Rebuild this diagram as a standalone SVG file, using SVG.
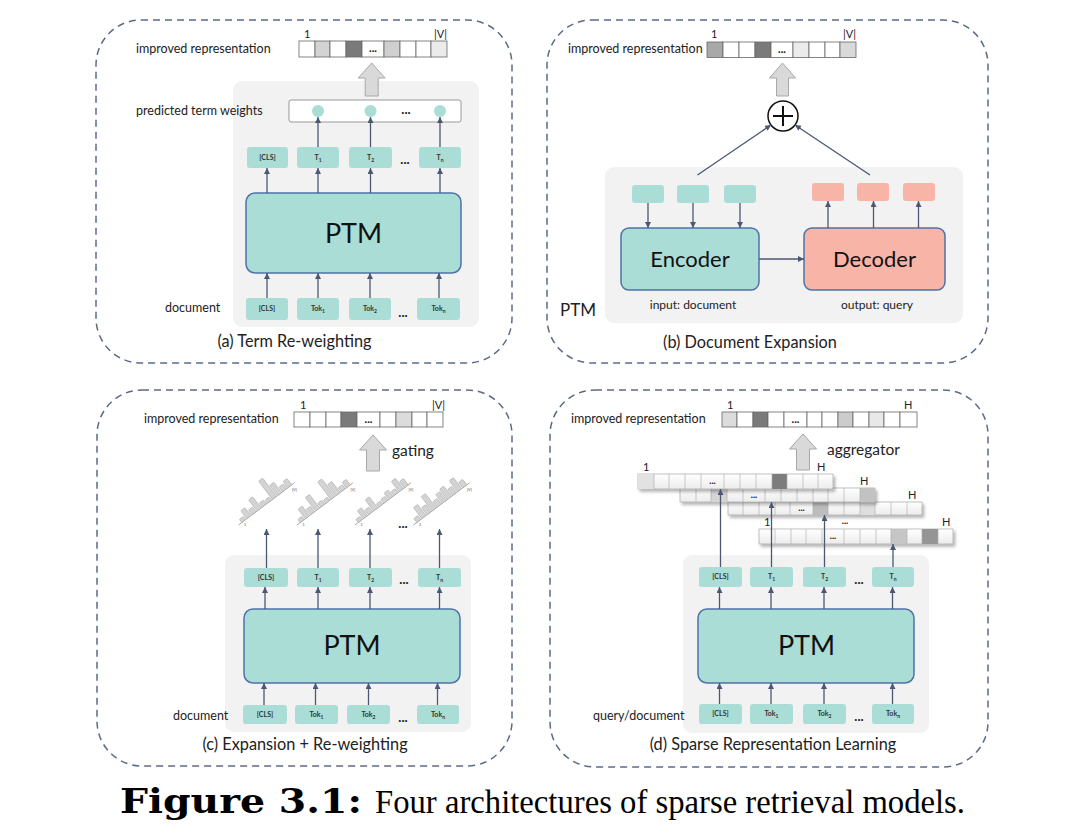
<svg xmlns="http://www.w3.org/2000/svg" width="1080" height="839" viewBox="0 0 1080 839">
<style>
.panel{fill:none;stroke:#5b6b86;stroke-width:1.5;stroke-dasharray:7 5}
.bg{fill:#f2f2f2}
.tok{fill:#a9ddd6}
.ptm{fill:#a9ddd6;stroke:#4f72a8;stroke-width:1.5}
.dec{fill:#f8b4a6;stroke:#4f72a8;stroke-width:1.5}
.sal{fill:#f8b4a6}
.lbl{font-family:Lato,"Liberation Sans",sans-serif;font-size:12.5px;fill:#222}
.cap{font-family:Lato,"Liberation Sans",sans-serif;font-size:16.3px;fill:#222;text-anchor:middle}
.big{font-family:Lato,"Liberation Sans",sans-serif;font-size:27px;fill:#111;text-anchor:middle}
.tt{font-family:Lato,"Liberation Sans",sans-serif;font-size:7px;font-weight:bold;fill:#333;text-anchor:middle}
.dots{font-family:Lato,"Liberation Sans",sans-serif;font-size:13px;font-weight:bold;fill:#222;text-anchor:middle}
.vd{font-family:Lato,"Liberation Sans",sans-serif;font-size:11px;font-weight:900;fill:#222;text-anchor:middle}
.cell{fill:#fff;stroke:#666;stroke-width:0.8}
.arr{stroke:#4b5874;stroke-width:1.3;fill:none;marker-end:url(#ah)}
.garr{fill:#d9d9d9;stroke:#a8a8a8;stroke-width:1}
.small{font-family:Lato,"Liberation Sans",sans-serif;font-size:11px;fill:#222}
.bar{fill:#d3d3d3;stroke:#a5a5a5;stroke-width:0.5}
.axis{stroke:#999;stroke-width:0.8}
.tiny{font-family:"Liberation Sans",sans-serif;font-size:4px;fill:#555}
.row{fill:url(#rg);stroke:#999;stroke-width:0.6;filter:url(#sh)}
.div{stroke:#aaa;stroke-width:0.6}
</style>
<defs>
<marker id="ah" markerUnits="userSpaceOnUse" markerWidth="7" markerHeight="7" refX="6" refY="3" orient="auto">
<path d="M0,0 L6,3 L0,6 z" fill="#4b5874"/>
</marker>
<linearGradient id="rg" x1="0" y1="0" x2="0" y2="1">
<stop offset="0" stop-color="#ffffff"/>
<stop offset="1" stop-color="#ececec"/>
</linearGradient>
<filter id="sh" x="-10%" y="-30%" width="120%" height="180%">
<feDropShadow dx="2" dy="2.5" stdDeviation="1.5" flood-color="#000" flood-opacity="0.3"/>
</filter>
</defs>

<rect width="1080" height="839" fill="#fff"/>

<!-- ============ Panel (a) ============ -->
<g id="panel-a">
<rect class="panel" x="96" y="20" width="416" height="343" rx="45"/>
<rect class="bg" x="233" y="81" width="246" height="246" rx="9"/>
<text class="lbl" x="136" y="53">improved representation</text>
<g id="a-vector">
<rect class="cell" x="299" y="41" width="16" height="16"/>
<rect class="cell" x="315" y="41" width="15" height="16" style="fill:#d3d3d3"/>
<rect class="cell" x="330" y="41" width="16" height="16"/>
<rect class="cell" x="346" y="41" width="16" height="16" style="fill:#7a7a7a"/>
<rect class="cell" x="362" y="41" width="22" height="16"/>
<rect class="cell" x="384" y="41" width="16" height="16" style="fill:#cfcfcf"/>
<rect class="cell" x="400" y="41" width="16" height="16"/>
<rect class="cell" x="416" y="41" width="15" height="16"/>
<rect class="cell" x="431" y="41" width="16" height="16" style="fill:#ebebeb"/>
<text class="vd" x="373" y="52">...</text>
<text class="small" x="304" y="38">1</text>
<text class="small" x="434" y="38">|V|</text>
</g>
<polygon class="garr" points="371.7,63 385.2,78 378.2,78 378.2,96 365.2,96 365.2,78 358.2,78"/>
<text class="lbl" x="136" y="115">predicted term weights</text>
<g id="a-weights">
<rect x="289" y="100" width="172" height="22" rx="2" fill="#fff" stroke="#999" stroke-width="1"/>
<circle cx="318" cy="111" r="6" fill="#a9ddd6"/>
<circle cx="370.5" cy="111" r="6" fill="#a9ddd6"/>
<circle cx="440" cy="111" r="6" fill="#a9ddd6"/>
<text class="dots" x="406" y="114">...</text>
</g>
<g id="a-out-tokens">
<rect class="tok" x="247" y="147" width="41" height="21" rx="3"/><text class="tt" x="267.5" y="160">[CLS]</text>
<rect class="tok" x="297" y="147" width="42" height="21" rx="3"/><text class="tt" x="318" y="160">T<tspan font-size="5" dy="1.5">1</tspan></text>
<rect class="tok" x="349" y="147" width="43" height="21" rx="3"/><text class="tt" x="370.5" y="160">T<tspan font-size="5" dy="1.5">2</tspan></text>
<rect class="tok" x="419" y="147" width="42" height="21" rx="3"/><text class="tt" x="440" y="160">T<tspan font-size="5" dy="1.5">n</tspan></text>
<text class="dots" x="405" y="164">...</text>
</g>
<g id="a-ptm">
<rect class="ptm" x="246" y="193" width="215" height="80" rx="9"/>
<text class="big" x="353.5" y="243">PTM</text>
</g>
<g id="a-in-tokens">
<rect class="tok" x="246" y="298" width="42" height="22" rx="3"/><text class="tt" x="267" y="311">[CLS]</text>
<rect class="tok" x="297" y="298" width="42" height="22" rx="3"/><text class="tt" x="318" y="311">Tok<tspan font-size="5" dy="1.5">1</tspan></text>
<rect class="tok" x="349" y="298" width="42" height="22" rx="3"/><text class="tt" x="370" y="311">Tok<tspan font-size="5" dy="1.5">2</tspan></text>
<rect class="tok" x="417" y="298" width="43" height="22" rx="3"/><text class="tt" x="438.5" y="311">Tok<tspan font-size="5" dy="1.5">n</tspan></text>
<text class="dots" x="403" y="317">...</text>
</g>
<text class="lbl" x="165" y="312">document</text>
<text class="cap" x="294.5" y="347">(a) Term Re-weighting</text>
</g>

<!-- ============ Panel (b) ============ -->
<g id="panel-b">
<rect class="panel" x="547" y="20" width="441" height="343" rx="45"/>
<rect class="bg" x="605" y="167" width="358" height="156" rx="9"/>
<text class="lbl" x="568" y="53">improved representation</text>
<g id="b-vector">
<rect class="cell" x="707" y="42" width="16" height="15.5" style="fill:#a8a8a8"/>
<rect class="cell" x="723" y="42" width="16" height="15.5"/>
<rect class="cell" x="739" y="42" width="16" height="15.5"/>
<rect class="cell" x="755" y="42" width="16" height="15.5" style="fill:#7a7a7a"/>
<rect class="cell" x="771" y="42" width="22" height="15.5"/>
<rect class="cell" x="793" y="42" width="16" height="15.5" style="fill:#ebebeb"/>
<rect class="cell" x="809" y="42" width="16" height="15.5"/>
<rect class="cell" x="825" y="42" width="15" height="15.5"/>
<rect class="cell" x="840" y="42" width="16" height="15.5" style="fill:#d9d9d9"/>
<text class="vd" x="782" y="53">...</text>
<text class="small" x="711" y="38">1</text>
<text class="small" x="843" y="38">|V|</text>
</g>
<polygon class="garr" points="782.5,63 795.5,78 788.5,78 788.5,96 776.5,96 776.5,78 769.5,78"/>
<g id="b-plus">
<circle cx="783" cy="116" r="15" fill="#fff" stroke="#111" stroke-width="1.5"/>
<line x1="773" y1="116" x2="793" y2="116" stroke="#111" stroke-width="2"/>
<line x1="783" y1="106" x2="783" y2="126" stroke="#111" stroke-width="2"/>
</g>
<g id="b-enc-tokens">
<rect class="tok" x="632" y="185" width="32" height="18" rx="3"/>
<rect class="tok" x="677" y="185" width="32" height="18" rx="3"/>
<rect class="tok" x="724" y="185" width="32" height="18" rx="3"/>
</g>
<g id="b-dec-tokens">
<rect class="sal" x="812" y="183" width="32" height="18" rx="3"/>
<rect class="sal" x="857" y="183" width="32" height="18" rx="3"/>
<rect class="sal" x="903" y="183" width="32" height="18" rx="3"/>
</g>
<g id="b-encoder">
<rect class="ptm" x="621" y="228" width="138" height="62" rx="8"/>
<text class="big" x="690" y="267" style="font-size:22px">Encoder</text>
</g>
<g id="b-decoder">
<rect class="dec" x="804" y="228" width="141" height="62" rx="8"/>
<text class="big" x="874.5" y="267" style="font-size:22px">Decoder</text>
</g>
<text class="lbl" x="693" y="309" text-anchor="middle" style="font-size:12px">input: document</text>
<text class="lbl" x="877" y="309" text-anchor="middle" style="font-size:12px">output: query</text>
<text class="lbl" x="560" y="316" style="font-size:17px">PTM</text>
<text class="cap" x="750" y="348">(b) Document Expansion</text>
</g>

<!-- ============ Panel (c) ============ -->
<g id="panel-c">
<rect class="panel" x="97" y="390" width="415" height="376" rx="45"/>
<rect class="bg" x="225" y="555" width="246" height="177" rx="9"/>
<text class="lbl" x="144" y="423">improved representation</text>
<g id="c-vector">
<rect class="cell" x="294" y="412" width="16" height="15"/>
<rect class="cell" x="310" y="412" width="16" height="15"/>
<rect class="cell" x="326" y="412" width="15" height="15"/>
<rect class="cell" x="341" y="412" width="16" height="15" style="fill:#7a7a7a"/>
<rect class="cell" x="357" y="412" width="23" height="15"/>
<rect class="cell" x="380" y="412" width="16" height="15"/>
<rect class="cell" x="396" y="412" width="16" height="15" style="fill:#dcdcdc"/>
<rect class="cell" x="412" y="412" width="15" height="15"/>
<rect class="cell" x="427" y="412" width="16" height="15"/>
<text class="vd" x="368.5" y="423">...</text>
<text class="small" x="300" y="409">1</text>
<text class="small" x="432" y="409">|V|</text>
</g>
<polygon class="garr" points="373,435 386.5,450 379.5,450 379.5,471 366.5,471 366.5,450 359.5,450"/>
<text class="lbl" x="392" y="456" style="font-size:15.5px">gating</text>
<g id="c-hist-1" transform="translate(238.5,525) rotate(-37)">
<line class="axis" x1="0" y1="0" x2="70" y2="0"/>
<rect class="bar" x="4" y="-4" width="5.2" height="4" rx="1"/>
<rect class="bar" x="10.4" y="-10" width="5.2" height="10" rx="1"/>
<rect class="bar" x="16.8" y="-6" width="5.2" height="6" rx="1"/>
<rect class="bar" x="23.2" y="-14" width="5.2" height="14" rx="1"/>
<rect class="bar" x="29.6" y="-5" width="5.2" height="5" rx="1"/>
<rect class="bar" x="36" y="-4" width="5.2" height="4" rx="1"/>
<rect class="bar" x="42.4" y="-23" width="5.2" height="23" rx="1"/>
<rect class="bar" x="48.8" y="-13" width="5.2" height="13" rx="1"/>
<rect class="bar" x="55.2" y="-6" width="5.2" height="6" rx="1"/>
<rect class="bar" x="61.6" y="-8" width="5.2" height="8" rx="1"/>
</g>
<g id="c-hist-2" transform="translate(297,525) rotate(-37)">
<line class="axis" x1="0" y1="0" x2="70" y2="0"/>
<rect class="bar" x="4" y="-4" width="5.2" height="4" rx="1"/>
<rect class="bar" x="10.4" y="-12" width="5.2" height="12" rx="1"/>
<rect class="bar" x="16.8" y="-7" width="5.2" height="7" rx="1"/>
<rect class="bar" x="23.2" y="-17" width="5.2" height="17" rx="1"/>
<rect class="bar" x="29.6" y="-5" width="5.2" height="5" rx="1"/>
<rect class="bar" x="36" y="-4" width="5.2" height="4" rx="1"/>
<rect class="bar" x="42.4" y="-22" width="5.2" height="22" rx="1"/>
<rect class="bar" x="48.8" y="-14" width="5.2" height="14" rx="1"/>
<rect class="bar" x="55.2" y="-5" width="5.2" height="5" rx="1"/>
<rect class="bar" x="61.6" y="-7" width="5.2" height="7" rx="1"/>
</g>
<g id="c-hist-3" transform="translate(355,525) rotate(-37)">
<line class="axis" x1="0" y1="0" x2="70" y2="0"/>
<rect class="bar" x="4" y="-4" width="5.2" height="4" rx="1"/>
<rect class="bar" x="10.4" y="-10" width="5.2" height="10" rx="1"/>
<rect class="bar" x="16.8" y="-6" width="5.2" height="6" rx="1"/>
<rect class="bar" x="23.2" y="-14" width="5.2" height="14" rx="1"/>
<rect class="bar" x="29.6" y="-4" width="5.2" height="4" rx="1"/>
<rect class="bar" x="36" y="-5" width="5.2" height="5" rx="1"/>
<rect class="bar" x="42.4" y="-8" width="5.2" height="8" rx="1"/>
<rect class="bar" x="48.8" y="-5" width="5.2" height="5" rx="1"/>
<rect class="bar" x="55.2" y="-13" width="5.2" height="13" rx="1"/>
<rect class="bar" x="61.6" y="-8" width="5.2" height="8" rx="1"/>
</g>
<g id="c-hist-4" transform="translate(413.5,525) rotate(-37)">
<line class="axis" x1="0" y1="0" x2="70" y2="0"/>
<rect class="bar" x="4" y="-5" width="5.2" height="5" rx="1"/>
<rect class="bar" x="10.4" y="-14" width="5.2" height="14" rx="1"/>
<rect class="bar" x="16.8" y="-9" width="5.2" height="9" rx="1"/>
<rect class="bar" x="23.2" y="-18" width="5.2" height="18" rx="1"/>
<rect class="bar" x="29.6" y="-7" width="5.2" height="7" rx="1"/>
<rect class="bar" x="36" y="-11" width="5.2" height="11" rx="1"/>
<rect class="bar" x="42.4" y="-13" width="5.2" height="13" rx="1"/>
<rect class="bar" x="48.8" y="-8" width="5.2" height="8" rx="1"/>
<rect class="bar" x="55.2" y="-14" width="5.2" height="14" rx="1"/>
<rect class="bar" x="61.6" y="-7" width="5.2" height="7" rx="1"/>
</g>
<g id="c-hist-labels">
<text class="tiny" x="244" y="526">1</text><text class="tiny" x="292" y="491">|V|</text>
<text class="tiny" x="302.5" y="526">1</text><text class="tiny" x="350.5" y="491">|V|</text>
<text class="tiny" x="360.5" y="526">1</text><text class="tiny" x="408.5" y="491">|V|</text>
<text class="tiny" x="419" y="526">1</text><text class="tiny" x="467" y="491">|V|</text>
</g>
<text class="dots" x="403" y="528">...</text>
<g id="c-out-tokens">
<rect class="tok" x="244" y="568" width="44" height="19" rx="3"/><text class="tt" x="266" y="580">[CLS]</text>
<rect class="tok" x="297" y="568" width="42" height="19" rx="3"/><text class="tt" x="318" y="580">T<tspan font-size="5" dy="1.5">1</tspan></text>
<rect class="tok" x="349" y="568" width="43" height="19" rx="3"/><text class="tt" x="370.5" y="580">T<tspan font-size="5" dy="1.5">2</tspan></text>
<rect class="tok" x="418" y="568" width="43" height="19" rx="3"/><text class="tt" x="439.5" y="580">T<tspan font-size="5" dy="1.5">n</tspan></text>
<text class="dots" x="404" y="584">...</text>
</g>
<g id="c-ptm">
<rect class="ptm" x="244" y="609" width="216" height="74" rx="9"/>
<text class="big" x="352" y="655">PTM</text>
</g>
<g id="c-in-tokens">
<rect class="tok" x="243" y="705" width="44" height="19" rx="3"/><text class="tt" x="265" y="717">[CLS]</text>
<rect class="tok" x="295" y="705" width="43" height="19" rx="3"/><text class="tt" x="316.5" y="717">Tok<tspan font-size="5" dy="1.5">1</tspan></text>
<rect class="tok" x="347" y="705" width="43" height="19" rx="3"/><text class="tt" x="368.5" y="717">Tok<tspan font-size="5" dy="1.5">2</tspan></text>
<rect class="tok" x="417" y="705" width="42" height="19" rx="3"/><text class="tt" x="438" y="717">Tok<tspan font-size="5" dy="1.5">n</tspan></text>
<text class="dots" x="403" y="722">...</text>
</g>
<text class="lbl" x="173" y="720">document</text>
<text class="cap" x="305" y="750">(c) Expansion + Re-weighting</text>
</g>

<!-- ============ Panel (d) ============ -->
<g id="panel-d">
<rect class="panel" x="550" y="390" width="438" height="377" rx="45"/>
<rect class="bg" x="683" y="555" width="246" height="178" rx="9"/>
<text class="lbl" x="571" y="423">improved representation</text>
<g id="d-vector">
<rect class="cell" x="722" y="412" width="15" height="15" style="fill:#dcdcdc"/>
<rect class="cell" x="737" y="412" width="16" height="15"/>
<rect class="cell" x="753" y="412" width="15" height="15" style="fill:#7a7a7a"/>
<rect class="cell" x="768" y="412" width="16" height="15"/>
<rect class="cell" x="784" y="412" width="23" height="15"/>
<rect class="cell" x="807" y="412" width="15" height="15"/>
<rect class="cell" x="822" y="412" width="16" height="15"/>
<rect class="cell" x="838" y="412" width="15" height="15" style="fill:#cccccc"/>
<rect class="cell" x="853" y="412" width="16" height="15"/>
<rect class="cell" x="869" y="412" width="15" height="15" style="fill:#e8e8e8"/>
<rect class="cell" x="884" y="412" width="16" height="15"/>
<rect class="cell" x="900" y="412" width="17" height="15"/>
<text class="vd" x="795.5" y="423">...</text>
<text class="small" x="727" y="409">1</text>
<text class="small" x="904" y="409">H</text>
</g>
<polygon class="garr" points="803,434 816.5,449 809.5,449 809.5,470 796.5,470 796.5,449 789.5,449"/>
<text class="lbl" x="827" y="455" style="font-size:15.5px">aggregator</text>

<g id="d-row-3">
<rect class="row" x="728" y="502" width="194" height="13"/>
<rect x="813" y="502" width="15" height="13" fill="#bdbdbd"/>
<rect x="860" y="502" width="15" height="13" fill="#dedede"/>
<path class="div" d="M743,502v13M759,502v13M775,502v13M790,502v13M813,502v13M828,502v13M844,502v13M860,502v13M875,502v13M891,502v13M907,502v13"/>
<text class="vd" x="801.5" y="511" style="font-size:9px">...</text>
<text class="small" x="908" y="499">H</text>
</g>
<g id="d-row-2">
<rect class="row" x="680" y="488" width="195" height="14"/>
<rect x="711" y="488" width="16" height="14" fill="#d5d5d5"/>
<rect x="860" y="488" width="15" height="14" fill="#c2c2c2"/>
<path class="div" d="M696,488v14M711,488v14M727,488v14M743,488v14M765,488v14M781,488v14M797,488v14M813,488v14M828,488v14M844,488v14M860,488v14"/>
<text class="vd" x="754" y="498" style="font-size:9px">...</text>
<text class="small" x="860" y="485">H</text>
</g>
<g id="d-row-1">
<rect class="row" x="638" y="474" width="195" height="15"/>
<rect x="638" y="474" width="16" height="15" fill="#e2e2e2"/>
<rect x="772" y="474" width="15" height="15" fill="#7d7d7d"/>
<path class="div" d="M654,474v15M669,474v15M685,474v15M701,474v15M724,474v15M740,474v15M756,474v15M772,474v15M787,474v15M803,474v15M818,474v15"/>
<text class="vd" x="712.5" y="484" style="font-size:9px">...</text>
<text class="small" x="643" y="471">1</text>
<text class="small" x="817" y="471">H</text>
</g>
<g id="d-row-4">
<rect class="row" x="759" y="529" width="194" height="15"/>
<rect x="891" y="529" width="16" height="15" fill="#c6c6c6"/>
<rect x="922" y="529" width="16" height="15" fill="#959595"/>
<path class="div" d="M775,529v15M791,529v15M806,529v15M822,529v15M844,529v15M860,529v15M876,529v15M891,529v15M907,529v15M922,529v15M938,529v15"/>
<text class="vd" x="833" y="539" style="font-size:9px">...</text>
<text class="small" x="764" y="526">1</text>
<text class="vd" x="845" y="524" style="font-size:9px">...</text>
<text class="small" x="942" y="526">H</text>
</g>

<g id="d-out-tokens">
<rect class="tok" x="699" y="567" width="43" height="20" rx="3"/><text class="tt" x="720.5" y="579">[CLS]</text>
<rect class="tok" x="750" y="567" width="43" height="20" rx="3"/><text class="tt" x="771.5" y="579">T<tspan font-size="5" dy="1.5">1</tspan></text>
<rect class="tok" x="803" y="567" width="43" height="20" rx="3"/><text class="tt" x="824.5" y="579">T<tspan font-size="5" dy="1.5">2</tspan></text>
<rect class="tok" x="872" y="567" width="42" height="20" rx="3"/><text class="tt" x="893" y="579">T<tspan font-size="5" dy="1.5">n</tspan></text>
<text class="dots" x="859" y="584">...</text>
</g>
<g id="d-ptm">
<rect class="ptm" x="698" y="609" width="216" height="74" rx="9"/>
<text class="big" x="806.5" y="655">PTM</text>
</g>
<g id="d-in-tokens">
<rect class="tok" x="699" y="704" width="43" height="20" rx="3"/><text class="tt" x="720.5" y="716">[CLS]</text>
<rect class="tok" x="750" y="704" width="43" height="20" rx="3"/><text class="tt" x="771.5" y="716">Tok<tspan font-size="5" dy="1.5">1</tspan></text>
<rect class="tok" x="803" y="704" width="43" height="20" rx="3"/><text class="tt" x="824.5" y="716">Tok<tspan font-size="5" dy="1.5">2</tspan></text>
<rect class="tok" x="872" y="704" width="42" height="20" rx="3"/><text class="tt" x="893" y="716">Tok<tspan font-size="5" dy="1.5">n</tspan></text>
<text class="dots" x="859" y="721">...</text>
</g>
<text class="lbl" x="593" y="720">query/document</text>
<text class="cap" x="773" y="750">(d) Sparse Representation Learning</text>
</g>

<!-- ============ Connectors ============ -->
<g id="connectors">
<line class="arr" x1="267" y1="193" x2="267" y2="168"/>
<line class="arr" x1="318" y1="193" x2="318" y2="168"/>
<line class="arr" x1="370.5" y1="193" x2="370.5" y2="168"/>
<line class="arr" x1="440" y1="193" x2="440" y2="168"/>
<line class="arr" x1="318" y1="147" x2="318" y2="117"/>
<line class="arr" x1="370.5" y1="147" x2="370.5" y2="117"/>
<line class="arr" x1="440" y1="147" x2="440" y2="117"/>
<line class="arr" x1="267" y1="298" x2="267" y2="273"/>
<line class="arr" x1="318" y1="298" x2="318" y2="273"/>
<line class="arr" x1="370" y1="298" x2="370" y2="273"/>
<line class="arr" x1="439" y1="298" x2="439" y2="273"/>
<line class="arr" x1="697.5" y1="175" x2="771" y2="125"/>
<line class="arr" x1="870" y1="175" x2="795" y2="125"/>
<line class="arr" x1="648" y1="203" x2="648" y2="228"/>
<line class="arr" x1="693" y1="203" x2="693" y2="228"/>
<line class="arr" x1="740" y1="203" x2="740" y2="228"/>
<line class="arr" x1="828" y1="228" x2="828" y2="201"/>
<line class="arr" x1="873.5" y1="228" x2="873.5" y2="201"/>
<line class="arr" x1="918.5" y1="228" x2="918.5" y2="201"/>
<line class="arr" x1="759" y1="259" x2="804" y2="259"/>
<line class="arr" x1="266.5" y1="568" x2="266.5" y2="529"/>
<line class="arr" x1="318" y1="568" x2="318" y2="529"/>
<line class="arr" x1="370" y1="568" x2="370" y2="529"/>
<line class="arr" x1="439.5" y1="568" x2="439.5" y2="529"/>
<line class="arr" x1="265" y1="609" x2="265" y2="587"/>
<line class="arr" x1="318" y1="609" x2="318" y2="587"/>
<line class="arr" x1="370" y1="609" x2="370" y2="587"/>
<line class="arr" x1="439.5" y1="609" x2="439.5" y2="587"/>
<line class="arr" x1="264" y1="705" x2="264" y2="683"/>
<line class="arr" x1="315.5" y1="705" x2="315.5" y2="683"/>
<line class="arr" x1="368.5" y1="705" x2="368.5" y2="683"/>
<line class="arr" x1="437.5" y1="705" x2="437.5" y2="683"/>
<line class="arr" x1="720.5" y1="567" x2="720.5" y2="489"/>
<line class="arr" x1="771.5" y1="567" x2="771.5" y2="502"/>
<line class="arr" x1="824.5" y1="567" x2="824.5" y2="515"/>
<line class="arr" x1="893" y1="567" x2="893" y2="544"/>
<line class="arr" x1="719.5" y1="609" x2="719.5" y2="587"/>
<line class="arr" x1="771" y1="609" x2="771" y2="587"/>
<line class="arr" x1="824" y1="609" x2="824" y2="587"/>
<line class="arr" x1="892.5" y1="609" x2="892.5" y2="587"/>
<line class="arr" x1="719.5" y1="704" x2="719.5" y2="683"/>
<line class="arr" x1="771" y1="704" x2="771" y2="683"/>
<line class="arr" x1="824" y1="704" x2="824" y2="683"/>
<line class="arr" x1="892.5" y1="704" x2="892.5" y2="683"/>
</g>

<g id="caption">
<text x="120" y="813" font-family="'DejaVu Serif',serif" font-weight="bold" font-size="34" fill="#000" textLength="242" lengthAdjust="spacingAndGlyphs">Figure 3.1:</text>
<text x="375" y="813" font-family="'Liberation Serif',serif" font-size="33" fill="#000" textLength="590" lengthAdjust="spacingAndGlyphs">Four architectures of sparse retrieval models.</text>
</g>
</svg>
